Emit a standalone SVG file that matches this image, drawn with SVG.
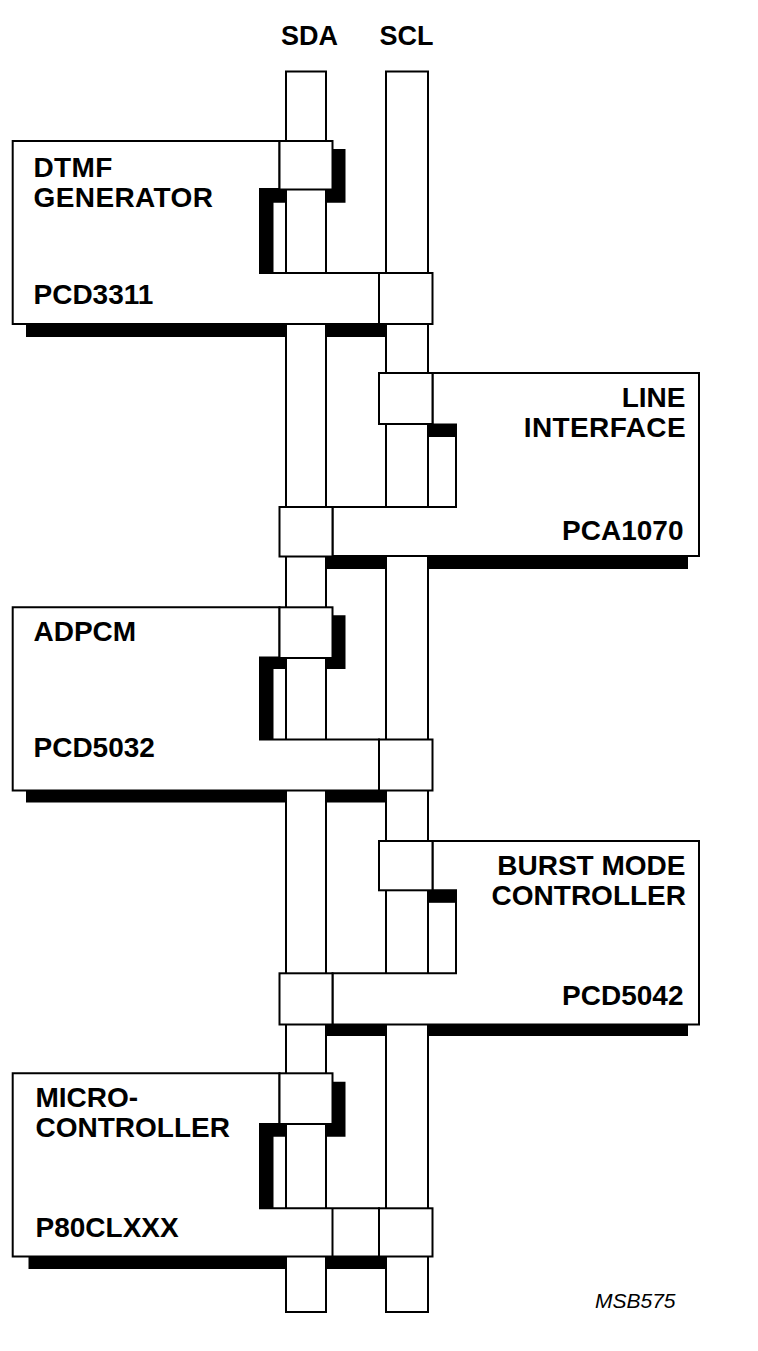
<svg xmlns="http://www.w3.org/2000/svg" width="758" height="1351" viewBox="0 0 758 1351">
<style>
.o{fill:#fff;stroke:#000;stroke-width:2;stroke-linejoin:miter}
.k{fill:#000;stroke:none}
text{font-family:"Liberation Sans",Arial,sans-serif;fill:#000}
.l{font-size:28px;font-weight:bold}
.r{font-size:28px;font-weight:bold;text-anchor:end}
.h{font-size:27px;font-weight:bold;text-anchor:middle}
.m{font-size:21px;font-style:italic}
.w{letter-spacing:0.4px}
</style>
<g id="connectors">
<rect id="sda-bus" class="o" x="286" y="71.500" width="40" height="1240.500"/>
<rect id="scl-bus" class="o" x="386" y="71.500" width="42" height="1240.500"/>
</g>
<g id="dtmf-generator">
<path class="k" d="M26 324H286V337H26ZM326 324H386V337H326Z"/>
<path class="k" d="M332 149H345.500V202.700H327V190H332Z"/>
<path class="k" d="M260 189H285V202.700H273.500V273H260Z"/>
<path class="o" d="M12.700 141H279.500V189H260V273H379V324H12.700Z"/>
<rect class="o" x="279.500" y="141" width="53" height="48.500"/>
<rect class="o" x="379" y="273" width="53.500" height="51"/>
<text class="l w" x="33.500" y="177">DTMF</text>
<text class="l w" x="33.500" y="207">GENERATOR</text>
<text class="l" x="33.500" y="304">PCD3311</text>
</g>
<g id="line-interface">
<path class="k" d="M327 556H386V569H327ZM428 556H688V569H428Z"/>
<path class="o" d="M699 373H432.500V424.500H456V507H332.500V556H699Z"/>
<rect class="k" x="428" y="424.500" width="28" height="12.500"/>
<rect class="o" x="379" y="373" width="53.500" height="51"/>
<rect class="o" x="279.500" y="507" width="53" height="49.500"/>
<text class="r" x="685.500" y="407">LINE</text>
<text class="r w" x="686" y="437">INTERFACE</text>
<text class="r" x="683.500" y="540">PCA1070</text>
</g>
<g id="adpcm">
<path class="k" d="M26 790.500H286V802.500H26ZM326 790.500H386V802.500H326Z"/>
<path class="k" d="M332 615.300H345.500V669H327V657H332Z"/>
<path class="k" d="M260 657H285V669H273.500V739.500H260Z"/>
<path class="o" d="M12.700 607.300H279.500V657.500H260V739.500H379V790.500H12.700Z"/>
<rect class="o" x="279.500" y="607.300" width="53" height="50.700"/>
<rect class="o" x="379" y="739.500" width="53.500" height="51"/>
<text class="l" x="33.500" y="641">ADPCM</text>
<text class="l" x="33.500" y="757">PCD5032</text>
</g>
<g id="burst-mode-controller">
<path class="k" d="M327 1024.500H386V1036H327ZM428 1024.500H688V1036H428Z"/>
<path class="o" d="M699 841H432.500V890.300H456V973.300H332.500V1024.500H699Z"/>
<rect class="k" x="428" y="890.300" width="28" height="12.500"/>
<rect class="o" x="379" y="841" width="53.500" height="49.300"/>
<rect class="o" x="279.500" y="973.300" width="53" height="51.200"/>
<text class="r" x="685.500" y="874.500">BURST MODE</text>
<text class="r" x="686" y="905">CONTROLLER</text>
<text class="r" x="683.500" y="1004.500">PCD5042</text>
</g>
<g id="microcontroller">
<path class="k" d="M28.500 1256.500H286V1269H28.500ZM326 1256.500H386V1269H326Z"/>
<path class="k" d="M332 1081.700H345.500V1136.700H327V1124H332Z"/>
<path class="k" d="M260 1124H285V1136.700H273.500V1208.300H260Z"/>
<path class="o" d="M12.700 1073.300H279.500V1124H260V1208.300H379V1256.500H12.700Z"/>
<rect class="o" x="279.500" y="1073.300" width="53" height="50.700"/>
<path d="M332.500 1208.300V1256.500" fill="none" stroke="#000" stroke-width="2"/>
<rect class="o" x="379" y="1208.300" width="53.500" height="48.200"/>
<text class="l" x="35.500" y="1107">MICRO-</text>
<text class="l" x="35.500" y="1137">CONTROLLER</text>
<text class="l" x="35.500" y="1237">P80CLXXX</text>
</g>
<g id="labels">
<text class="h" x="309.500" y="44.500">SDA</text>
<text class="h" x="406.500" y="44.500">SCL</text>
<text class="m" x="595" y="1308">MSB575</text>
</g>
</svg>
